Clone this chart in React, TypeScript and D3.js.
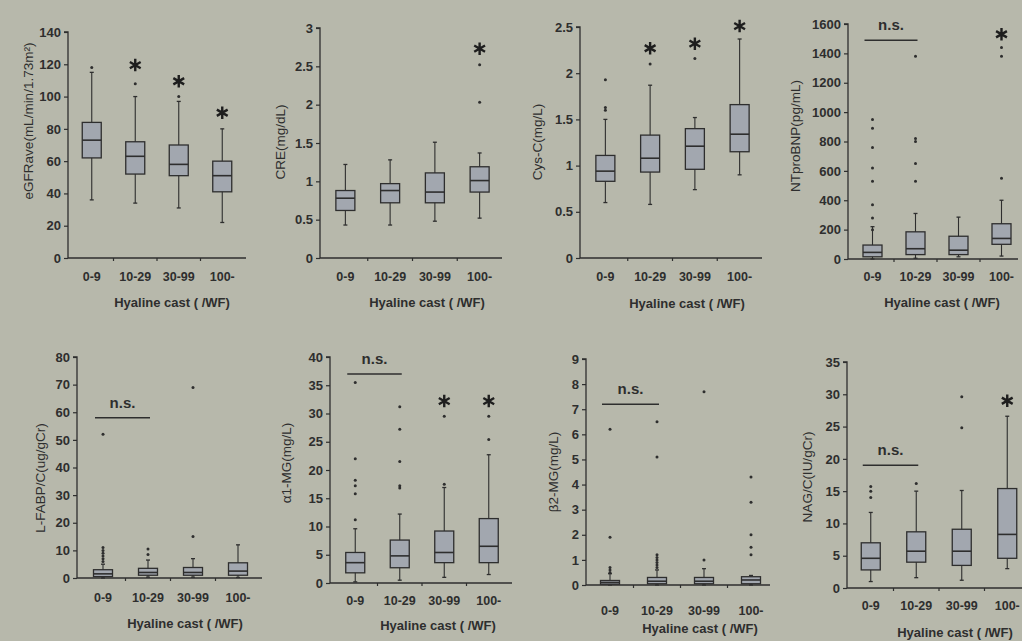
import React, { useEffect, useRef } from 'react';
import * as d3 from 'd3';

const categories = ['0-9', '10-29', '30-99', '100-'];
const xTitle = 'Hyaline cast ( /WF)';

// [low whisker, Q1, median, Q3, high whisker]
const egfrStats = [[36, 62, 73, 84, 115], [34, 52, 63, 72, 100], [31, 51, 58, 70, 97], [22, 41, 51, 60, 80]];
const egfrOutliers = [[118], [108], [100], []];
const egfrStars = [null, 119.5, 109.5, 90];

const creStats = [[0.43, 0.62, 0.78, 0.88, 1.22], [0.43, 0.72, 0.88, 0.97, 1.28], [0.48, 0.72, 0.86, 1.11, 1.51], [0.52, 0.86, 1.01, 1.19, 1.37]];
const creOutliers = [[], [], [], [2.03, 2.52]];
const creStars = [null, null, null, 2.73];

const cysStats = [[0.6, 0.83, 0.94, 1.11, 1.5], [0.58, 0.93, 1.08, 1.33, 1.87], [0.74, 0.96, 1.21, 1.4, 1.52], [0.9, 1.15, 1.34, 1.66, 2.37]];
const cysOutliers = [[1.6, 1.63, 1.93], [2.1], [2.16], []];
const cysStars = [null, 2.27, 2.32, 2.51];

const bnpStats = [[0, 15, 45, 95, 220], [5, 30, 70, 185, 310], [15, 30, 60, 155, 285], [20, 100, 140, 240, 400]];
const bnpOutliers = [[200, 280, 370, 530, 620, 760, 890, 950], [530, 650, 800, 820, 1380], [], [550, 1380, 1440]];
const bnpStars = [null, null, null, 1530];

const fabpStats = [[0, 0.5, 1.5, 3, 5], [0.3, 1, 2, 3.5, 6.5], [0.3, 1, 2, 3.8, 7], [0.2, 1, 2.5, 5.5, 12]];
const fabpOutliers = [[6, 7, 8, 9, 10, 11, 52], [8.5, 10.5], [15, 69], []];
const fabpStars = [null, null, null, null];

const a1mgStats = [[0.2, 1.8, 3.6, 5.4, 9.6], [0.5, 2.7, 4.8, 7.6, 12.2], [1, 3.6, 5.4, 9.2, 16.9], [1.5, 3.6, 6.5, 11.4, 22.7]];
const a1mgOutliers = [[11.2, 15.8, 17.2, 18.2, 22, 35.5], [16.8, 17.2, 21.5, 27.2, 31.2], [17.5, 29.5], [25.4, 29.5]];
const a1mgStars = [null, null, 32.2, 32.2];

const b2mgStats = [[0, 0.03, 0.1, 0.18, 0.45], [0, 0.05, 0.15, 0.3, 0.6], [0, 0.05, 0.15, 0.3, 0.65], [0, 0.05, 0.2, 0.33, 0.38]];
const b2mgOutliers = [[0.5, 0.6, 0.7, 1.9, 6.2], [0.7, 0.8, 0.9, 1.0, 1.1, 1.2, 5.1, 6.5], [1.0, 7.7], [1.2, 1.5, 2.0, 3.3, 4.3]];
const b2mgStars = [null, null, null, null];

const nagStats = [[1, 2.8, 4.6, 7, 11.7], [1.6, 4, 5.7, 8.7, 15], [1.2, 3.5, 5.7, 9.1, 15.1], [3, 4.6, 8.3, 15.4, 26.6]];
const nagOutliers = [[14, 15, 15.7], [16.2], [24.8, 29.6], []];
const nagStars = [null, null, null, 29];

const panels = [
  { label: 'eGFRave(mL/min/1.73m²)', max: 140, step: 20, stats: egfrStats, outliers: egfrOutliers, stars: egfrStars, ns: null,
    ax: 68, axEnd: 246, band: [70, 244], top: 32, bottom: 258, labelX: 28, labelY: 121, titleX: 172, titleY: 307, tickY: 281 },
  { label: 'CRE(mg/dL)', max: 3, step: 0.5, stats: creStats, outliers: creOutliers, stars: creStars, ns: null,
    ax: 320, axEnd: 502, band: [323, 502], top: 28, bottom: 258, labelX: 280, labelY: 142, titleX: 427, titleY: 307, tickY: 281 },
  { label: 'Cys-C(mg/L)', max: 2.5, step: 0.5, stats: cysStats, outliers: cysOutliers, stars: cysStars, ns: null,
    ax: 580, axEnd: 762, band: [583, 762], top: 27, bottom: 258, labelX: 537, labelY: 142, titleX: 687, titleY: 308, tickY: 281 },
  { label: 'NTproBNP(pg/mL)', max: 1600, step: 200, stats: bnpStats, outliers: bnpOutliers, stars: bnpStars, ns: 1490,
    ax: 848, axEnd: 1018, band: [851, 1023], top: 24, bottom: 259, labelX: 795, labelY: 136, titleX: 942, titleY: 307, tickY: 281 },
  { label: 'L-FABP/C(ug/gCr)', max: 80, step: 10, stats: fabpStats, outliers: fabpOutliers, stars: fabpStars, ns: 58,
    ax: 77, axEnd: 262, band: [80.5, 260.5], top: 357, bottom: 578, labelX: 40, labelY: 478, titleX: 185, titleY: 628, tickY: 602 },
  { label: 'α1-MG(mg/L)', max: 40, step: 5, stats: a1mgStats, outliers: a1mgOutliers, stars: a1mgStars, ns: 37,
    ax: 330, axEnd: 512, band: [333, 511], top: 357, bottom: 583, labelX: 286, labelY: 463, titleX: 438, titleY: 630, tickY: 605 },
  { label: 'β2-MG(mg/L)', max: 9, step: 1, stats: b2mgStats, outliers: b2mgOutliers, stars: b2mgStars, ns: 7.2,
    ax: 586, axEnd: 770, band: [586.5, 774.5], top: 359, bottom: 585, labelX: 553, labelY: 472, titleX: 700, titleY: 633, tickY: 615 },
  { label: 'NAG/C(IU/gCr)', max: 35, step: 5, stats: nagStats, outliers: nagOutliers, stars: nagStars, ns: 19,
    ax: 847, axEnd: 1025, band: [848, 1030], top: 362, bottom: 588, labelX: 807, labelY: 477, titleX: 955, titleY: 637, tickY: 610 },
];

const ink = '#2e2e2e';
const boxFill = '#a2a7af';
const font = '"Liberation Sans", Arial, sans-serif';

export default function App() {
  const ref = useRef<SVGSVGElement>(null);

  useEffect(() => {
    const svg = d3.select(ref.current);
    svg.selectAll('*').remove();
    svg.append('rect').attr('width', 1022).attr('height', 641).attr('fill', '#b7b8ab');

    const star = d3.symbol().type(d3.symbolAsterisk).size(110);

    panels.forEach(p => {
      const g = svg.append('g');
      const y = d3.scaleLinear().domain([0, p.max]).range([p.bottom, p.top]);
      const x = d3.scaleBand().domain(categories).range(p.band as [number, number]);
      const bw = 19;

      // y axis
      const yAxis = d3.axisLeft(y)
        .tickValues(d3.range(0, p.max + p.step / 2, p.step))
        .tickSize(4)
        .tickFormat(d => String(d));
      const ya = g.append('g').attr('transform', `translate(${p.ax},0)`).call(yAxis);
      ya.select('.domain').attr('d', `M-4,${p.top}H0V${p.bottom}`).attr('stroke', ink).attr('stroke-width', 1.3);
      ya.selectAll('.tick line').attr('stroke', ink).attr('stroke-width', 1.2);
      ya.selectAll('.tick text').attr('fill', ink).attr('font-family', font).attr('font-size', 13).attr('font-weight', 'bold').attr('x', -7);

      // x axis
      g.append('line').attr('x1', p.ax).attr('x2', p.axEnd).attr('y1', p.bottom).attr('y2', p.bottom)
        .attr('stroke', ink).attr('stroke-width', 1.3);
      categories.slice(1).forEach(c => {
        const bx = x(c)!;
        g.append('line').attr('x1', bx).attr('x2', bx).attr('y1', p.bottom).attr('y2', p.bottom + 3)
          .attr('stroke', ink).attr('stroke-width', 1.2);
      });
      categories.forEach(c => {
        g.append('text').attr('x', x(c)! + x.bandwidth() / 2).attr('y', p.tickY)
          .attr('text-anchor', 'middle').attr('font-family', font).attr('font-size', 12.5).attr('font-weight', 'bold')
          .attr('fill', ink).text(c);
      });
      g.append('text').attr('x', p.titleX).attr('y', p.titleY).attr('text-anchor', 'middle')
        .attr('font-family', font).attr('font-size', 13).attr('font-weight', 'bold').attr('fill', ink).text(xTitle);

      // y label
      g.append('text').attr('transform', `translate(${p.labelX},${p.labelY}) rotate(-90)`).attr('text-anchor', 'middle')
        .attr('dy', '0.35em').attr('font-family', font).attr('font-size', 13.5).attr('fill', ink).text(p.label);

      // boxes
      p.stats.forEach((s, i) => {
        const cx = x(categories[i])! + x.bandwidth() / 2;
        const [lo, q1, md, q3, hi] = s;
        g.append('line').attr('x1', cx).attr('x2', cx).attr('y1', y(lo)).attr('y2', y(hi)).attr('stroke', ink).attr('stroke-width', 1.1);
        [lo, hi].forEach(v => g.append('line').attr('x1', cx - 2).attr('x2', cx + 2).attr('y1', y(v)).attr('y2', y(v)).attr('stroke', ink).attr('stroke-width', 1.3));
        g.append('rect').attr('x', cx - bw / 2).attr('width', bw).attr('y', y(q3)).attr('height', Math.max(1, y(q1) - y(q3)))
          .attr('fill', boxFill).attr('stroke', ink).attr('stroke-width', 1.3);
        g.append('line').attr('x1', cx - bw / 2).attr('x2', cx + bw / 2).attr('y1', y(md)).attr('y2', y(md)).attr('stroke', ink).attr('stroke-width', 1.6);
        p.outliers[i].forEach(v => g.append('circle').attr('cx', cx).attr('cy', y(v)).attr('r', 1.5).attr('fill', ink));
        const st = p.stars[i];
        if (st !== null) {
          g.append('path').attr('d', star()!).attr('transform', `translate(${cx},${y(st)})`)
            .attr('fill', 'none').attr('stroke', '#1e1e1e').attr('stroke-width', 2.4);
        }
      });

      if (p.ns !== null) {
        const x0 = x(categories[0])! + x.bandwidth() / 2 - 8;
        const x1 = x(categories[1])! + x.bandwidth() / 2 + 2;
        g.append('line').attr('x1', x0).attr('x2', x1).attr('y1', y(p.ns)).attr('y2', y(p.ns)).attr('stroke', ink).attr('stroke-width', 1.5);
        g.append('text').attr('x', (x0 + x1) / 2).attr('y', y(p.ns) - 10).attr('text-anchor', 'middle')
          .attr('font-family', font).attr('font-size', 15).attr('font-weight', 'bold').attr('fill', ink).text('n.s.');
      }
    });
  }, []);

  return <svg ref={ref} width={1022} height={641} style={{ position: 'absolute', left: 0, top: 0 }} />;
}
